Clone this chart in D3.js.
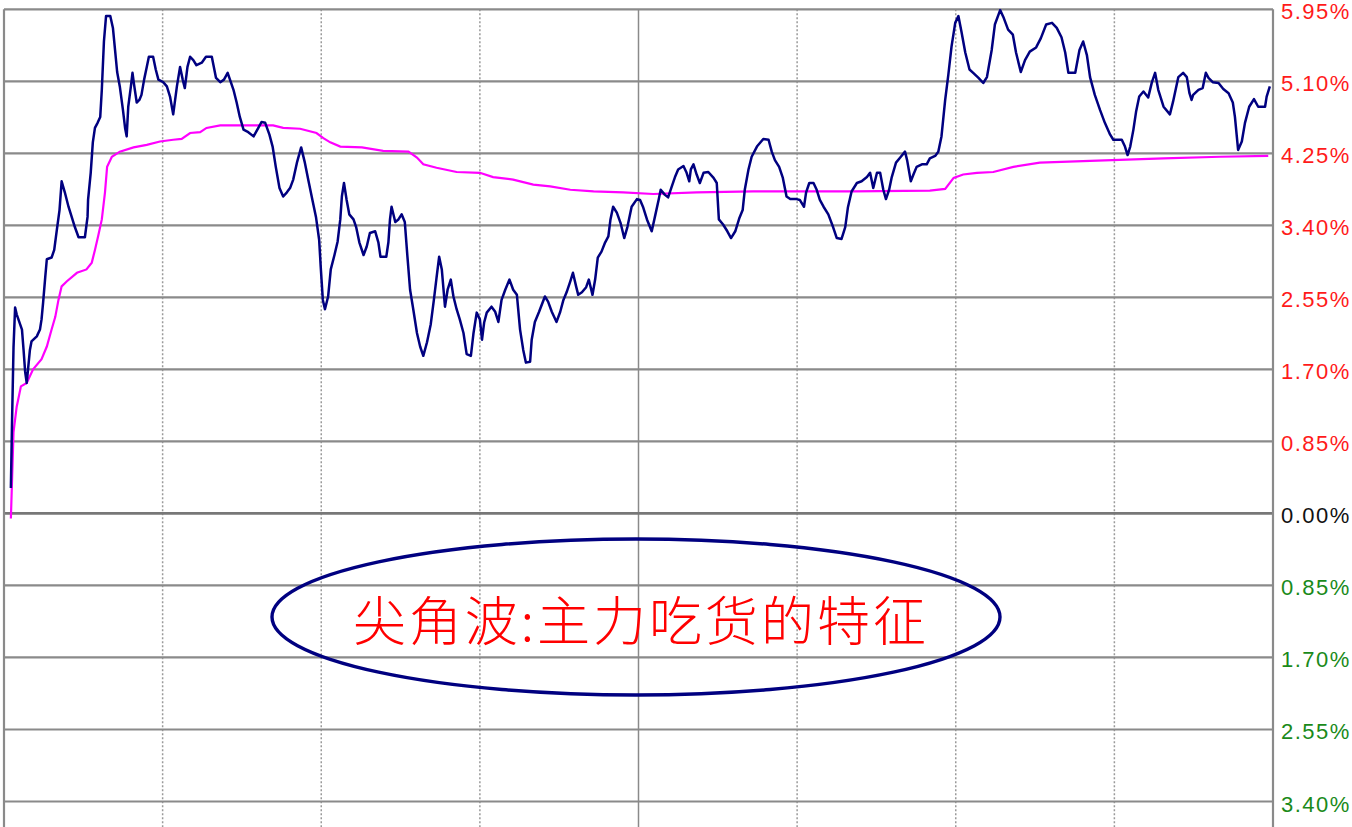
<!DOCTYPE html>
<html>
<head>
<meta charset="utf-8">
<script src="https://cdn.jsdelivr.net/npm/d3@7"></script>
<style>
  html, body { margin: 0; padding: 0; background: #fff; overflow: hidden; }
  svg { display: block; }
</style>
</head>
<body>
<svg id="chart" width="1352" height="827"></svg>
<script>
// ---- data ----
// percent-change axis ticks
const tickValues = [5.95, 5.10, 4.25, 3.40, 2.55, 1.70, 0.85, 0, -0.85, -1.70, -2.55, -3.40];
const tickLabels = ["5.95%", "5.10%", "4.25%", "3.40%", "2.55%", "1.70%", "0.85%", "0.00%", "0.85%", "1.70%", "2.55%", "3.40%"];
// trading minutes (0..240) where vertical grid lines sit
const dottedMinutes = [30, 60, 90, 150, 180, 210];
const middayMinute = 120;

// price line (minutes from open, % change)
const priceMinutes = [1.3,1.5,1.8,2.1,2.4,3.4,3.7,4.0,4.3,4.9,5.2,6.2,6.8,7.1,7.4,7.8,8.1,9.0,9.5,10.0,10.5,10.9,11.5,12.2,12.8,13.4,14.1,15.3,15.8,15.9,16.4,16.8,17.2,17.7,18.2,18.5,18.9,19.3,20.1,20.6,21.0,21.4,21.9,22.5,22.9,23.2,23.5,24.0,24.3,24.6,25.1,25.6,26.0,26.5,27.0,27.4,28.2,28.7,29.2,30.1,30.8,31.4,32.0,32.7,33.3,33.8,34.2,34.7,35.2,35.8,36.4,37.4,38.2,39.3,40.1,40.9,41.6,42.3,42.9,43.4,44.0,44.6,45.3,46.2,47.2,48.1,48.7,49.4,50.2,50.8,51.4,52.1,52.8,53.5,54.1,54.7,55.4,56.2,56.9,57.6,58.4,59.0,59.6,59.9,60.3,60.7,61.3,61.8,62.5,63.1,63.6,63.9,64.3,64.8,65.3,66.1,66.6,67.2,68.0,68.6,69.2,70.2,70.8,71.2,72.3,72.7,73.0,73.3,74.0,74.6,75.2,75.8,76.3,76.8,77.4,78.1,78.7,79.3,80.0,80.7,81.3,81.8,82.3,82.8,83.4,83.9,84.5,85.0,85.6,86.2,86.9,87.5,88.3,88.8,89.4,90.0,90.4,90.8,91.3,92.2,92.9,93.5,94.1,94.8,95.6,96.3,97.0,97.6,98.2,98.7,99.5,99.8,100.4,101.2,102.3,102.9,103.6,104.5,105.2,105.8,106.4,107.1,107.6,108.2,108.6,109.3,110.1,110.6,111.3,111.8,112.3,113.0,113.7,114.3,114.7,115.2,115.9,116.6,117.3,117.9,118.7,119.7,120.3,120.9,121.6,122.5,123.1,123.8,124.2,125.0,125.6,126.3,126.9,127.5,128.5,129.1,129.6,129.9,130.4,131.0,131.6,132.3,133.2,134.2,134.8,135.2,136.0,136.8,137.5,138.3,139.1,139.7,140.1,140.8,141.4,142.4,143.6,144.6,145.2,145.8,146.6,147.3,148.0,148.7,149.9,150.5,151.3,151.7,152.3,153.1,153.7,154.3,155.0,155.9,156.8,157.5,158.4,159.1,159.6,160.3,161.3,162.2,163.2,163.8,164.4,165.1,165.7,166.3,166.8,167.4,167.9,168.7,169.5,170.4,170.8,171.5,172.0,172.6,173.6,174.5,175.1,176.1,176.7,177.3,178.0,178.6,179.2,179.9,180.5,181.1,181.8,182.6,183.3,184.3,185.2,185.9,186.8,187.4,188.4,189.0,189.9,190.8,191.4,192.3,193.1,194.0,195.2,196.1,197.1,198.2,199.1,200.0,200.7,201.3,202.6,203.4,204.1,204.8,205.4,206.3,207.3,208.2,209.2,209.8,211.4,212.0,212.5,213.0,213.6,214.1,214.7,215.5,216.4,217.1,217.7,218.3,219.3,220.5,221.1,222.1,223.0,223.7,224.2,224.6,224.9,225.9,226.7,227.3,227.8,228.6,229.7,230.6,231.6,232.4,232.8,233.4,234.1,234.7,235.5,236.4,237.2,238.5,238.8,239.4];
const priceValues = [0.30,1.01,1.96,2.43,2.35,2.17,1.93,1.67,1.54,1.93,2.03,2.09,2.17,2.29,2.49,2.79,3.00,3.02,3.11,3.35,3.58,3.92,3.79,3.62,3.50,3.38,3.26,3.26,3.50,3.70,4.02,4.38,4.55,4.61,4.68,5.00,5.57,5.87,5.87,5.73,5.47,5.21,5.04,4.76,4.55,4.45,4.80,5.04,5.20,5.06,4.85,4.88,4.94,5.12,5.27,5.39,5.39,5.24,5.12,5.09,5.04,4.92,4.71,5.04,5.27,5.12,5.02,5.27,5.39,5.35,5.29,5.32,5.39,5.39,5.14,5.09,5.12,5.20,5.09,5.00,4.85,4.68,4.53,4.50,4.45,4.55,4.62,4.61,4.47,4.33,4.09,3.84,3.74,3.79,3.84,3.94,4.14,4.32,4.14,3.92,3.68,3.50,3.23,2.91,2.52,2.41,2.56,2.88,3.05,3.21,3.47,3.74,3.90,3.70,3.53,3.47,3.38,3.20,3.05,3.15,3.31,3.33,3.20,3.03,3.03,3.20,3.47,3.62,3.44,3.47,3.53,3.44,3.03,2.64,2.41,2.13,1.97,1.86,2.02,2.23,2.52,2.78,3.03,2.88,2.44,2.64,2.76,2.56,2.41,2.29,2.13,1.88,1.86,2.13,2.37,2.29,2.05,2.25,2.37,2.44,2.38,2.26,2.52,2.64,2.76,2.64,2.58,2.17,1.93,1.78,1.79,2.05,2.26,2.38,2.56,2.50,2.38,2.26,2.38,2.52,2.61,2.74,2.84,2.68,2.58,2.61,2.67,2.76,2.58,2.76,3.02,3.09,3.20,3.27,3.47,3.62,3.55,3.43,3.25,3.38,3.62,3.71,3.70,3.61,3.47,3.33,3.50,3.70,3.82,3.76,3.73,3.86,3.97,4.06,4.10,4.02,3.92,4.06,4.12,4.00,3.90,4.02,4.03,3.96,3.90,3.47,3.41,3.33,3.25,3.33,3.49,3.58,3.82,4.06,4.21,4.33,4.42,4.41,4.27,4.17,4.09,3.96,3.74,3.71,3.71,3.70,3.62,3.79,3.90,3.90,3.82,3.70,3.62,3.53,3.38,3.25,3.24,3.38,3.61,3.80,3.90,3.92,3.97,4.02,3.84,4.02,4.02,3.82,3.71,3.82,3.97,4.14,4.20,4.27,4.17,3.92,4.00,4.09,4.12,4.12,4.19,4.22,4.27,4.45,4.88,5.18,5.51,5.79,5.87,5.68,5.44,5.24,5.20,5.14,5.08,5.15,5.47,5.77,5.94,5.86,5.71,5.65,5.44,5.21,5.35,5.45,5.50,5.61,5.77,5.79,5.73,5.62,5.44,5.20,5.20,5.47,5.57,5.41,5.15,4.94,4.76,4.61,4.47,4.41,4.41,4.33,4.23,4.33,4.53,4.74,4.92,4.98,4.91,5.09,5.20,5.00,4.80,4.71,4.86,5.15,5.20,5.15,4.96,4.88,4.94,5.00,5.02,5.20,5.14,5.09,5.08,5.01,4.96,4.85,4.68,4.29,4.39,4.61,4.80,4.89,4.80,4.80,4.92,5.04];

// average-price line (minutes from open, % change)
const avgMinutes = [1.3,1.8,2.4,3.2,4.3,5.5,7.1,8.1,9.0,9.7,10.3,10.9,11.9,13.8,15.6,16.6,17.2,17.8,18.5,19.1,19.5,20.4,21.9,24.5,27.0,29.5,32.0,33.6,35.2,37.1,38.3,40.9,50.9,52.8,56.0,59.1,60.4,61.7,63.6,67.7,71.7,76.5,78.1,79.3,81.8,85.6,90.0,92.5,96.3,100.1,103.3,107.1,111.5,117.1,122.8,131.0,141.7,160.6,175.1,178.0,179.6,181.4,184.0,187.1,190.9,195.9,205.4,219.3,230.0,239.1];
const avgValues = [-0.06,0.96,1.26,1.50,1.54,1.70,1.82,1.97,2.17,2.32,2.52,2.68,2.74,2.84,2.88,2.96,3.11,3.27,3.47,3.79,4.09,4.21,4.27,4.32,4.35,4.39,4.41,4.42,4.49,4.50,4.55,4.58,4.58,4.55,4.54,4.49,4.43,4.38,4.33,4.32,4.28,4.27,4.20,4.12,4.08,4.03,4.02,3.97,3.94,3.88,3.86,3.82,3.80,3.79,3.77,3.79,3.80,3.80,3.81,3.83,3.96,4.00,4.02,4.03,4.09,4.14,4.16,4.19,4.21,4.22];

const annotationText = "尖角波:主力吃货的特征";

// ---- drawing ----
const W = 1352, H = 827;
const plotL = 4, plotR = 1273, plotT = 9.3, plotB = 801.5;
const svg = d3.select("#chart");

const x = d3.scaleLinear().domain([0, 240]).range([plotL, plotR]);
const y = d3.scaleLinear().domain([-3.40, 5.95]).range([plotB, plotT]);

// vertical dotted grid
svg.append("g").selectAll("line").data(dottedMinutes).join("line")
  .attr("x1", d => x(d)).attr("x2", d => x(d))
  .attr("y1", plotT).attr("y2", H)
  .attr("stroke", "#9a9a9a").attr("stroke-width", 1.5)
  .attr("stroke-dasharray", "2,2");

// midday solid line
svg.append("line")
  .attr("x1", x(middayMinute)).attr("x2", x(middayMinute))
  .attr("y1", plotT).attr("y2", H)
  .attr("stroke", "#8a8a8a").attr("stroke-width", 1.5);

// horizontal grid
svg.append("g").selectAll("line").data(tickValues).join("line")
  .attr("x1", plotL).attr("x2", plotR)
  .attr("y1", d => y(d)).attr("y2", d => y(d))
  .attr("stroke", d => d === 0 ? "#777" : "#8a8a8a")
  .attr("stroke-width", d => d === 0 ? 2.8 : 2.2);

// borders
svg.append("line").attr("x1", plotL).attr("x2", plotL).attr("y1", plotT).attr("y2", H)
  .attr("stroke", "#8a8a8a").attr("stroke-width", 2.2);
svg.append("line").attr("x1", plotR).attr("x2", plotR).attr("y1", plotT).attr("y2", H)
  .attr("stroke", "#8a8a8a").attr("stroke-width", 2.2);

// labels
svg.append("g").selectAll("text").data(tickValues).join("text")
  .attr("x", 1281)
  .attr("y", d => y(d) + 2.5)
  .attr("dominant-baseline", "central")
  .attr("font-family", "'Liberation Sans', Arial, sans-serif")
  .attr("font-size", 22)
  .attr("letter-spacing", 1.5)
  .attr("fill", d => d > 0 ? "#ff1a1a" : (d < 0 ? "#1a8a1a" : "#111"))
  .text((d, i) => tickLabels[i]);

// average line
const avgData = avgMinutes.map((m, i) => [m, avgValues[i]]);
svg.append("path").datum(avgData)
  .attr("fill", "none").attr("stroke", "#ff00ff").attr("stroke-width", 2.2)
  .attr("d", d3.line().x(d => x(d[0])).y(d => y(d[1])));

// price line
const priceData = priceMinutes.map((m, i) => [m, priceValues[i]]);
svg.append("path").datum(priceData)
  .attr("fill", "none").attr("stroke", "#000080").attr("stroke-width", 2.5)
  .attr("stroke-linejoin", "round")
  .attr("d", d3.line().x(d => x(d[0])).y(d => y(d[1])));

// annotation ellipse + text
svg.append("ellipse")
  .attr("cx", 636).attr("cy", 617).attr("rx", 364).attr("ry", 78)
  .attr("fill", "none").attr("stroke", "#000080").attr("stroke-width", 3.4);

svg.append("text")
  .attr("x", 641).attr("y", 618)
  .attr("text-anchor", "middle")
  .attr("dominant-baseline", "central")
  .attr("font-family", "'Noto Sans CJK SC', sans-serif")
  .attr("font-weight", 300)
  .attr("font-size", 53)
  .attr("letter-spacing", 3)
  .attr("fill", "#ff0000")
  .text(annotationText);
</script>
</body>
</html>
